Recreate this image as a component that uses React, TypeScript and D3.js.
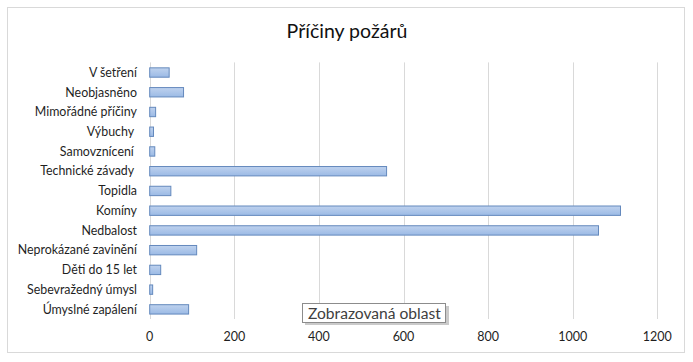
import React from "react";
import * as d3 from "d3";

const categories = [
  "V šetření",
  "Neobjasněno",
  "Mimořádné příčiny",
  "Výbuchy ",
  "Samovznícení ",
  "Technické závady ",
  "Topidla",
  "Komíny",
  "Nedbalost",
  "Neprokázané zavinění",
  "Děti do 15 let",
  "Sebevražedný úmysl",
  "Úmyslné zapálení",
];
const values = [46, 80, 14, 9, 12, 560, 50, 1113, 1061, 111, 26, 7, 92];
const ticks = [0, 200, 400, 600, 800, 1000, 1200];
const title = "Příčiny požárů";
const tooltipText = "Zobrazovaná oblast";

const W = 693;
const H = 362;
const font = "Lato, 'Open Sans', sans-serif";

export default function App() {
  const x = d3.scaleLinear().domain([0, 1200]).range([149.7, 657.3]);
  const y = d3
    .scaleBand<string>()
    .domain(categories)
    .range([62.4, 319])
    .paddingInner(0.5)
    .paddingOuter(0.25);
  const bw = y.bandwidth();
  const plotTop = 62.4;
  const plotBottom = 319;

  return (
    <svg
      width={W}
      height={H}
      style={{ position: "absolute", left: 0, top: 0, background: "#fff" }}
      fontFamily={font}
    >
      <defs>
        <linearGradient id="barGrad" x1="0" y1="0" x2="0" y2="1">
          <stop offset="0%" stopColor="#bfd2ee" />
          <stop offset="100%" stopColor="#9bbae5" />
        </linearGradient>
      </defs>
      <rect x={0} y={0} width={W} height={H} fill="#fff" />
      <rect
        x={7.5}
        y={7.5}
        width={677}
        height={345}
        fill="#fff"
        stroke="#d9d9d9"
        strokeWidth={1}
      />
      <text x={347} y={37.5} textAnchor="middle" fontSize={19.5} fill="#111">
        {title}
      </text>
      {ticks.map((t) => (
        <line
          key={"g" + t}
          x1={Math.round(x(t)) + 0.5}
          x2={Math.round(x(t)) + 0.5}
          y1={plotTop}
          y2={plotBottom}
          stroke="#d9d9d9"
          strokeWidth={1}
        />
      ))}
      {categories.map((c, i) => (
        <rect
          key={"b" + c}
          x={x(0)}
          y={(y(c) as number) + 0.5}
          width={x(values[i]) - x(0)}
          height={bw - 0.5}
          fill="url(#barGrad)"
          stroke="#6489bd"
          strokeWidth={1}
        />
      ))}
      {categories.map((c) => (
        <text
          key={"l" + c}
          x={137}
          y={(y(c) as number) + bw / 2 + 4.5}
          textAnchor="end"
          fontSize={12.4}
          fill="#1f1f1f"
          xmlSpace="preserve"
          style={{ whiteSpace: "pre" }}
        >
          {c}
        </text>
      ))}
      {ticks.map((t) => (
        <text
          key={"t" + t}
          x={x(t)}
          y={340.5}
          textAnchor="middle"
          fontSize={12.5}
          fill="#1f1f1f"
        >
          {t}
        </text>
      ))}
      <g>
        <rect x={305} y={306} width={144} height={19} fill="#a6a6a6" opacity={0.6} />
        <rect
          x={302.5}
          y={303.5}
          width={143}
          height={19}
          fill="#fff"
          stroke="#8c8c8c"
          strokeWidth={1}
        />
        <text x={308} y={319.3} fontSize={15.6} fill="#404040">
          {tooltipText}
        </text>
      </g>
    </svg>
  );
}
